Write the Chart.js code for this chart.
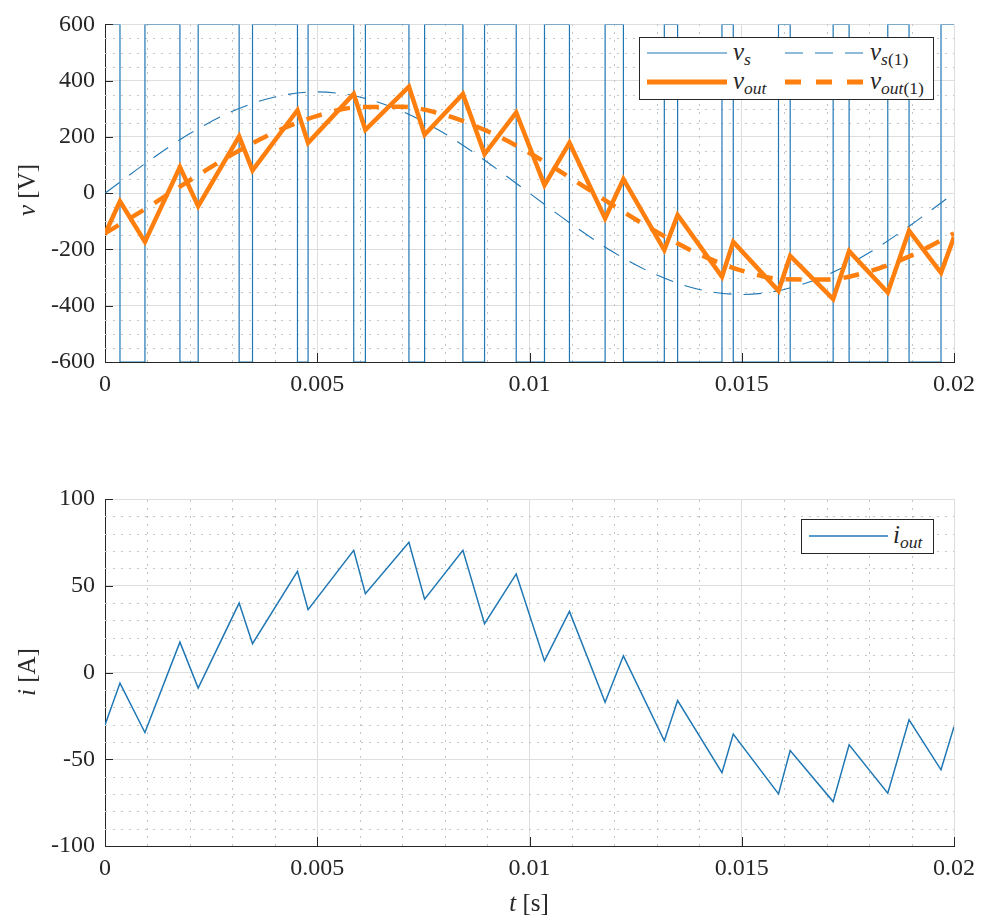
<!DOCTYPE html>
<html>
<head>
<meta charset="utf-8">
<script src="https://cdn.jsdelivr.net/npm/chart.js@4.4.1/dist/chart.umd.min.js"></script>
<style>
  body { margin:0; background:#fff; }
  #page { position:relative; width:983px; height:920px; font-family:"Liberation Serif", serif; color:#262626; overflow:hidden; }
  .wrap { position:absolute; left:0; width:983px; }
  .ttl { position:absolute; font-size:25px; white-space:nowrap; transform:translate(-50%,-50%); }
  .rot { transform:translate(-50%,-50%) rotate(-90deg); }
  .legend { position:absolute; border:1px solid #262626; background:#fff; box-sizing:border-box; }
  .legend svg { position:absolute; left:0; top:0; }
  .lab { position:absolute; font-size:25px; line-height:1; transform:translateY(-58%); white-space:nowrap; }
  sub { font-size:70%; vertical-align:-0.3em; line-height:0; }
</style>
</head>
<body>
<div id="page">
  <div class="wrap" style="top:0;height:440px"><canvas id="vChart" width="983" height="440"></canvas></div>
  <div class="wrap" style="top:440px;height:480px"><canvas id="iChart" width="983" height="480"></canvas></div>

  <div class="ttl rot" style="left:27px;top:190px"><i>v</i> [V]</div>
  <div class="ttl rot" style="left:27px;top:672px"><i>i</i> [A]</div>
  <div class="ttl" style="left:529px;top:903px"><i>t</i> [s]</div>

  <div class="legend" style="left:639px;top:37px;width:295px;height:63px">
    <svg width="295" height="63">
      <line x1="7" y1="15" x2="87" y2="15" stroke="#1f77b4" stroke-width="1.2"/>
      <line x1="145" y1="15" x2="223" y2="15" stroke="#1f77b4" stroke-width="1.2" stroke-dasharray="18 12"/>
      <line x1="7" y1="44" x2="87" y2="44" stroke="#ff7f0e" stroke-width="5"/>
      <line x1="145" y1="44" x2="223" y2="44" stroke="#ff7f0e" stroke-width="5" stroke-dasharray="16 15"/>
    </svg>
    <span class="lab" style="left:93px;top:15px"><i>v</i><sub><i>s</i></sub></span>
    <span class="lab" style="left:230px;top:15px"><i>v</i><sub><i>s</i>(1)</sub></span>
    <span class="lab" style="left:93px;top:44px"><i>v</i><sub><i>out</i></sub></span>
    <span class="lab" style="left:230px;top:44px"><i>v</i><sub><i>out</i>(1)</sub></span>
  </div>

  <div class="legend" style="left:801px;top:519px;width:133px;height:35px">
    <svg width="133" height="35">
      <line x1="7" y1="16" x2="86" y2="16" stroke="#1f77b4" stroke-width="1.5"/>
    </svg>
    <span class="lab" style="left:91px;top:16px"><i>i</i><sub><i>out</i></sub></span>
  </div>
</div>

<script>
// SWITCHING INSTANTS (s) AND SAMPLES

const tSw = [0, 0.000353, 0.000941, 0.001765, 0.002195, 0.003160, 0.003475, 0.004534,
  0.004784, 0.005859, 0.006134, 0.007160, 0.007529, 0.008431, 0.008941, 0.009687,
  0.010353, 0.010941, 0.011781, 0.012212, 0.013176, 0.013489, 0.014534, 0.014800,
  0.015866, 0.016141, 0.017153, 0.017529, 0.018440, 0.018941, 0.019694, 0.02];

const vsLevels = [600, -600, 600, -600, 600, -600, 600, -600,
  600, -600, 600, -600, 600, -600, 600, -600,
  600, -600, 600, -600, 600, -600, 600, -600,
  600, -600, 600, -600, 600, -600, 600, 600];

const vOut = [-145, -29, -173, 93, -46, 202, 81, 295,
  179, 353, 225, 379, 208, 353, 139, 287,
  29, 179, -90, 50, -202, -77, -297, -173,
  -347, -223, -376, -206, -353, -133, -283, -156];

const iOut = [-30.2, -6.1, -34.6, 17.5, -9, 40, 16.6, 58.3,
  36.2, 70.4, 45.4, 75, 42.3, 70.4, 28.1, 56.8,
  6.7, 35.2, -17.1, 9.6, -39.4, -16.2, -57.7, -35.5,
  -70, -45, -74.4, -41.7, -69.6, -27.3, -56.1, -31.2];

// FUNDAMENTALS (read every 1 ms)

const tFund = [0, 0.001, 0.002, 0.003, 0.004, 0.005, 0.006, 0.007, 0.008, 0.009, 0.010,
  0.011, 0.012, 0.013, 0.014, 0.015, 0.016, 0.017, 0.018, 0.019, 0.020];

const vs1 = [0, 111, 212, 291, 342, 360, 342, 291, 212, 111, 0,
  -111, -212, -291, -342, -360, -342, -291, -212, -111, 0];

const vOut1 = [-143, -51, 46, 138, 217, 275, 306, 307, 278, 221, 143,
  51, -46, -138, -217, -275, -306, -307, -278, -221, -143];

// TICKS

const xTicks = [0, 0.005, 0.01, 0.015, 0.02];
const xTickLabels = ["0", "0.005", "0.01", "0.015", "0.02"];
const vTicks = [-600, -400, -200, 0, 200, 400, 600];
const vTickLabels = ["-600", "-400", "-200", "0", "200", "400", "600"];
const iTicks = [-100, -50, 0, 50, 100];
const iTickLabels = ["-100", "-50", "0", "50", "100"];

const blue = "#1f77b4";
const orange = "#ff7f0e";
const axisColor = "#262626";
const serif = "'Liberation Serif', 'DejaVu Serif', serif";

Chart.defaults.font.family = serif;
Chart.defaults.font.size = 24;
Chart.defaults.color = axisColor;

// dotted minor grid + inward ticks like matlab
const matlabGrid = {
  id: "matlabGrid",
  beforeDatasetsDraw(chart, args, opts) {
    const ctx = chart.ctx;
    const a = chart.chartArea;
    const x = chart.scales.x;
    const y = chart.scales.y;
    ctx.save();
    ctx.strokeStyle = "#c4c4c4";
    ctx.lineWidth = 1;
    ctx.setLineDash([2, 6]);
    const nx = Math.round((x.max - x.min) / opts.xMinor);
    for (let k = 0; k <= nx; k++) {
      const v = x.min + k * opts.xMinor;
      const r = v / opts.xMajor;
      if (Math.abs(r - Math.round(r)) < 1e-6) continue;
      const px = Math.round(x.getPixelForValue(v)) + 0.5;
      ctx.beginPath();
      ctx.moveTo(px, a.bottom);
      ctx.lineTo(px, a.top);
      ctx.stroke();
    }
    const ny = Math.round((y.max - y.min) / opts.yMinor);
    for (let k = 0; k <= ny; k++) {
      const v = y.min + k * opts.yMinor;
      const r = v / opts.yMajor;
      if (Math.abs(r - Math.round(r)) < 1e-6) continue;
      const py = Math.round(y.getPixelForValue(v)) + 0.5;
      ctx.beginPath();
      ctx.moveTo(a.left, py);
      ctx.lineTo(a.right, py);
      ctx.stroke();
    }
    ctx.restore();
  },
  afterDraw(chart) {
    const ctx = chart.ctx;
    const a = chart.chartArea;
    ctx.save();
    ctx.strokeStyle = axisColor;
    ctx.lineWidth = 1;
    chart.scales.x.ticks.forEach(t => {
      const px = Math.round(chart.scales.x.getPixelForValue(t.value)) + 0.5;
      ctx.beginPath();
      ctx.moveTo(px, a.bottom);
      ctx.lineTo(px, a.bottom - 9);
      ctx.stroke();
    });
    chart.scales.y.ticks.forEach(t => {
      const py = Math.round(chart.scales.y.getPixelForValue(t.value)) + 0.5;
      ctx.beginPath();
      ctx.moveTo(a.left, py);
      ctx.lineTo(a.left + 8, py);
      ctx.stroke();
    });
    ctx.restore();
  }
};

function makeScales(yMin, yMax, yTicks, yLabels, xHeight) {
  const tickFont = { family: serif, size: 24 };
  return {
    x: {
      type: "linear",
      min: 0,
      max: 0.02,
      afterBuildTicks: s => { s.ticks = xTicks.map(v => ({ value: v })); },
      afterFit: s => { s.height = xHeight; },
      ticks: { callback: (v, i) => xTickLabels[i], padding: 8, maxRotation: 0, autoSkip: false, font: tickFont, color: axisColor },
      grid: { color: "#dedede", drawTicks: false },
      border: { color: axisColor, width: 1 }
    },
    y: {
      type: "linear",
      min: yMin,
      max: yMax,
      afterBuildTicks: s => { s.ticks = yTicks.map(v => ({ value: v })); },
      afterFit: s => { s.width = 105; },
      ticks: { callback: (v, i) => yLabels[i], padding: 10, autoSkip: false, font: tickFont, color: axisColor },
      grid: { color: "#dedede", drawTicks: false },
      border: { color: axisColor, width: 1 }
    }
  };
}

const pts = (xs, ys) => xs.map((t, i) => ({ x: t, y: ys[i] }));

function drawCharts() {

  // VOLTAGE PLOT

  new Chart(document.getElementById("vChart"), {
    type: "line",
    data: {
      datasets: [
        { label: "v_s", data: pts(tSw, vsLevels), stepped: true, borderColor: blue, borderWidth: 1.2, pointRadius: 0, order: 3 },
        { label: "v_s(1)", data: pts(tFund, vs1), cubicInterpolationMode: "monotone", borderColor: blue, borderWidth: 1.1, borderDash: [18, 12], pointRadius: 0, order: 2 },
        { label: "v_out", data: pts(tSw, vOut), borderColor: orange, borderWidth: 4.5, pointRadius: 0, order: 1 },
        { label: "v_out(1)", data: pts(tFund, vOut1), cubicInterpolationMode: "monotone", borderColor: orange, borderWidth: 4.5, borderDash: [16, 13], pointRadius: 0, order: 0 }
      ]
    },
    options: {
      responsive: false,
      animation: false,
      devicePixelRatio: 1,
      layout: { padding: { top: 17, right: 28, left: 0, bottom: 0 } },
      scales: makeScales(-600, 600, vTicks, vTickLabels, 78),
      plugins: {
        legend: { display: false },
        tooltip: { enabled: false },
        matlabGrid: { xMinor: 0.001, xMajor: 0.005, yMinor: 50, yMajor: 200 }
      }
    },
    plugins: [matlabGrid]
  });

  // CURRENT PLOT

  new Chart(document.getElementById("iChart"), {
    type: "line",
    data: {
      datasets: [
        { label: "i_out", data: pts(tSw, iOut), borderColor: blue, borderWidth: 1.5, pointRadius: 0 }
      ]
    },
    options: {
      responsive: false,
      animation: false,
      devicePixelRatio: 1,
      layout: { padding: { top: 59, right: 28, left: 0, bottom: 0 } },
      scales: makeScales(-100, 100, iTicks, iTickLabels, 74),
      plugins: {
        legend: { display: false },
        tooltip: { enabled: false },
        matlabGrid: { xMinor: 0.001, xMajor: 0.005, yMinor: 10, yMajor: 50 }
      }
    },
    plugins: [matlabGrid]
  });
}

// make sure the serif face is ready before the canvas text is drawn
Promise.all([
  document.fonts.load("24px 'Liberation Serif'"),
  document.fonts.load("italic 24px 'Liberation Serif'")
]).then(drawCharts, drawCharts);
</script>
</body>
</html>
